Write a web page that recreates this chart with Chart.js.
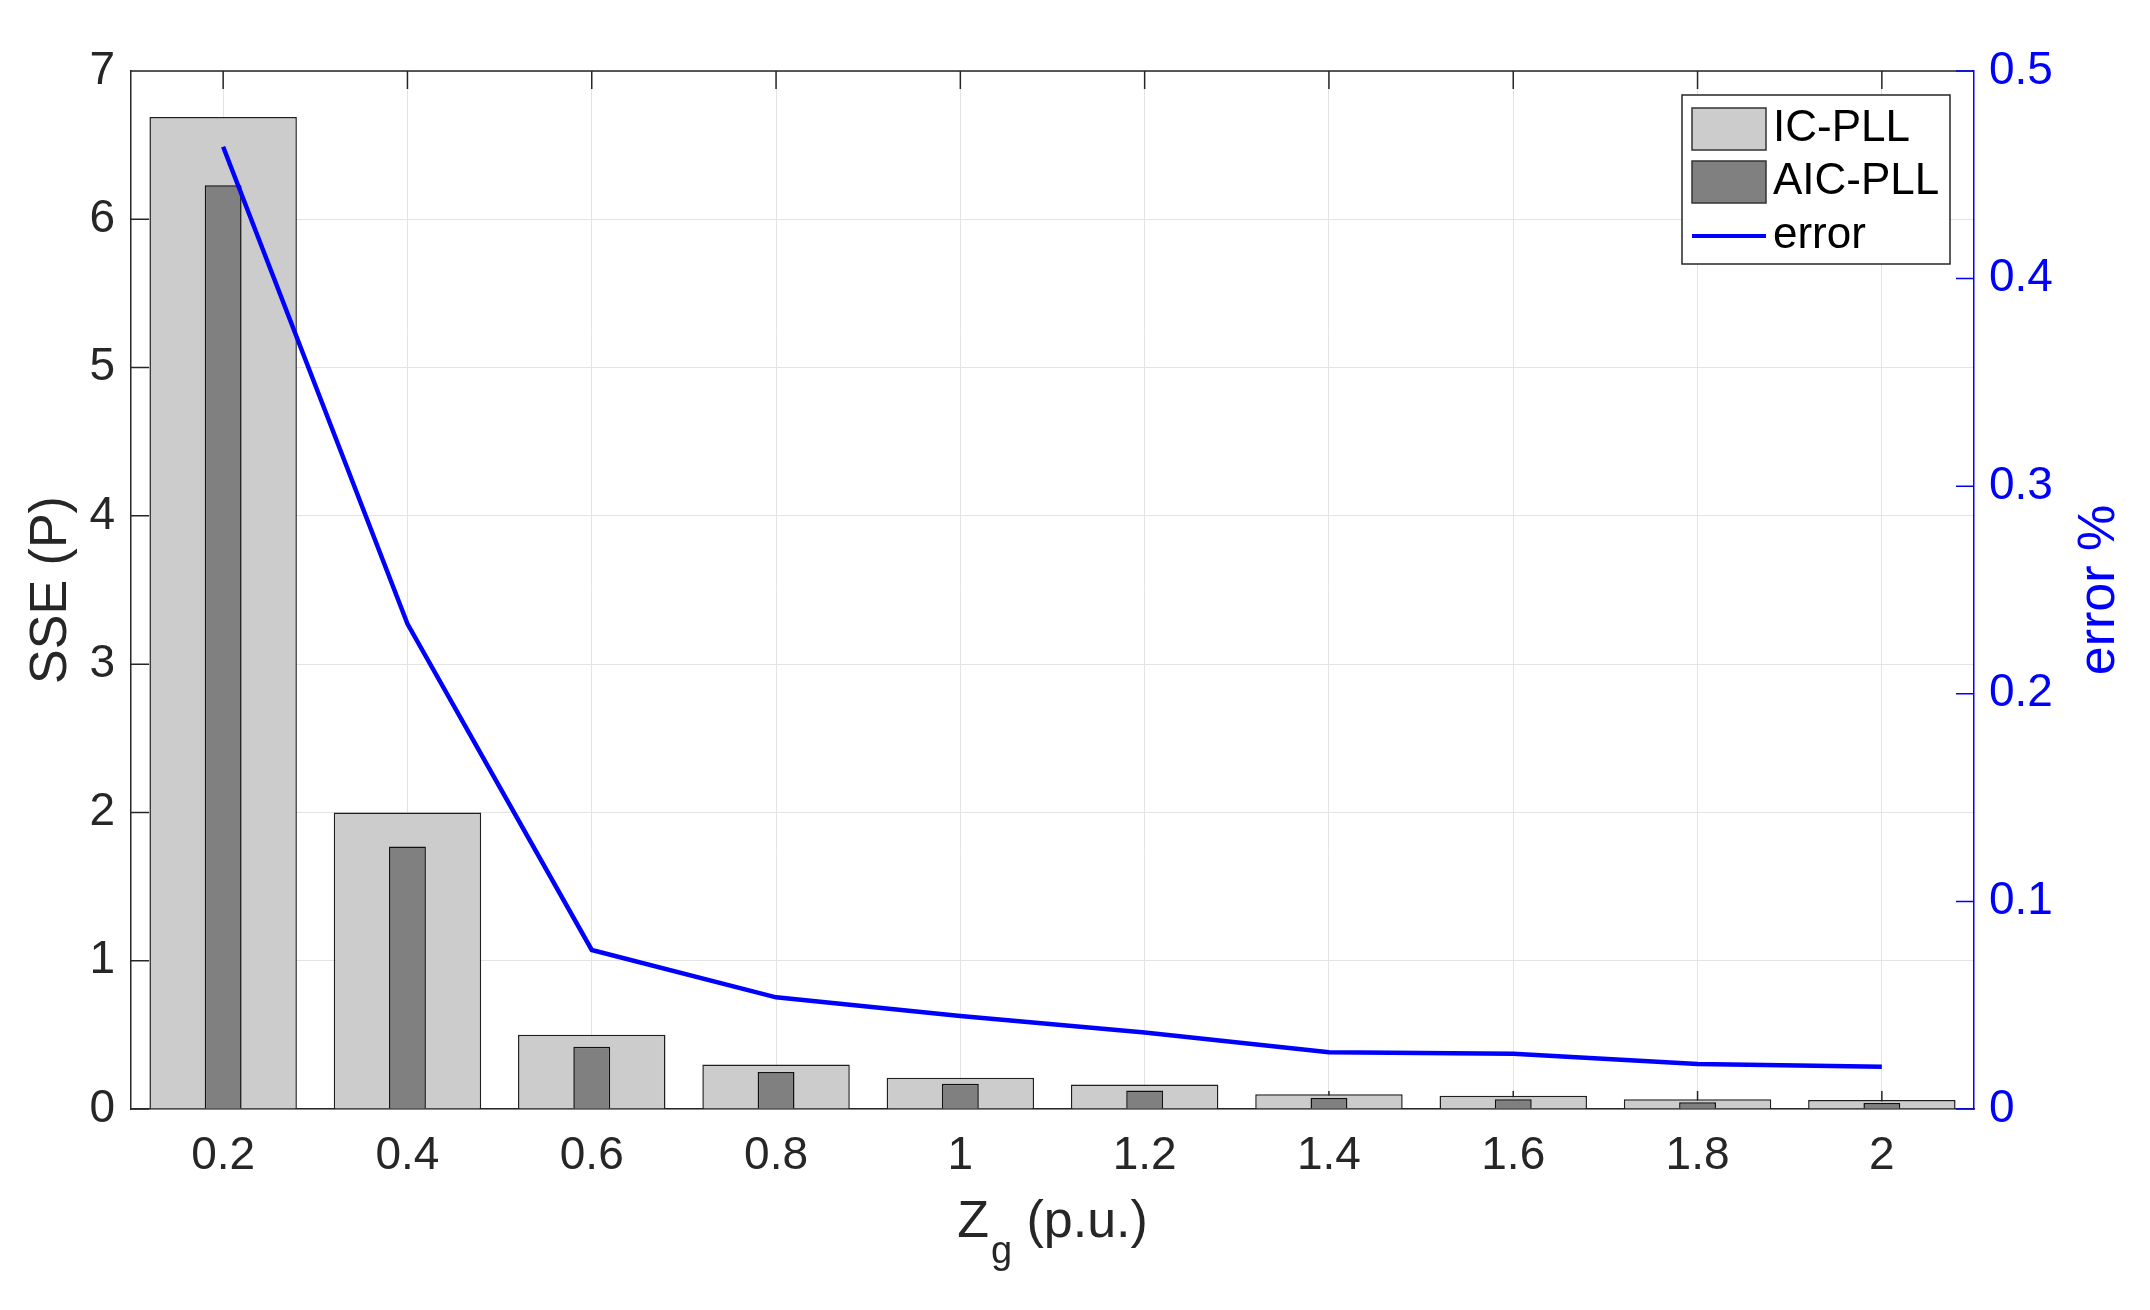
<!DOCTYPE html>
<html>
<head>
<meta charset="utf-8">
<script src="https://cdn.jsdelivr.net/npm/chart.js@4.4.1/dist/chart.umd.min.js"></script>
<style>
  html, body { margin: 0; padding: 0; background: #fff; }
  #wrap { width: 2150px; height: 1310px; }
</style>
</head>
<body>
<div id="wrap"><canvas id="grafico" width="2150" height="1310"></canvas></div>
<script>
// datos
const categorias = ['0.2', '0.4', '0.6', '0.8', '1', '1.2', '1.4', '1.6', '1.8', '2'];
const sseIC = [6.69, 2.0, 0.50, 0.30, 0.21, 0.165, 0.10, 0.09, 0.065, 0.06];
const sseAIC = [6.23, 1.77, 0.42, 0.25, 0.17, 0.125, 0.075, 0.065, 0.045, 0.04];
const errorPct = [0.4635, 0.2337, 0.0766, 0.0538, 0.0448, 0.0368, 0.0273, 0.0266, 0.0217, 0.0204];
const ticksIzq = ['0', '1', '2', '3', '4', '5', '6', '7'];
const ticksDer = ['0', '0.1', '0.2', '0.3', '0.4', '0.5'];

const FUENTE = 'Liberation Sans, Arial, Helvetica, sans-serif';
const NEGRO = '#262626';
const AZUL = '#0000ff';

// marcas hacia dentro y borde superior (estilo MATLAB), detras de las barras
const marcas = {
    id: 'marcas',
    beforeDatasetsDraw(chart) {
        const { ctx, chartArea: a, scales } = chart;
        const L = 18;
        ctx.save();
        ctx.lineWidth = 1.5;
        ctx.strokeStyle = NEGRO;
        ctx.beginPath();
        scales.y.ticks.forEach((t, i) => {
            const y = scales.y.getPixelForTick(i);
            ctx.moveTo(a.left, y);
            ctx.lineTo(a.left + L, y);
        });
        scales.x.ticks.forEach((t, i) => {
            const x = scales.x.getPixelForTick(i);
            ctx.moveTo(x, a.top);
            ctx.lineTo(x, a.top + L);
            ctx.moveTo(x, a.bottom);
            ctx.lineTo(x, a.bottom - L);
        });
        ctx.moveTo(a.left, a.top);
        ctx.lineTo(a.right, a.top);
        ctx.stroke();

        ctx.strokeStyle = AZUL;
        ctx.beginPath();
        scales.y1.ticks.forEach((t, i) => {
            const y = scales.y1.getPixelForTick(i);
            ctx.moveTo(a.right, y);
            ctx.lineTo(a.right - L, y);
        });
        ctx.stroke();
        ctx.restore();
    }
};

// leyenda con borde, titulo X con subindice y titulo derecho
const extras = {
    id: 'extras',
    afterDraw(chart) {
        const { ctx, chartArea: a } = chart;
        const ds = chart.data.datasets;
        ctx.save();

        // Leyenda
        const bx = 1682, by = 95, bw = 268, bh = 169;
        ctx.fillStyle = '#fff';
        ctx.fillRect(bx, by, bw, bh);
        ctx.lineWidth = 1.5;
        ctx.strokeStyle = NEGRO;
        ctx.strokeRect(bx, by, bw, bh);
        const filas = [129, 182, 236];
        ctx.font = '44px ' + FUENTE;
        ctx.textBaseline = 'middle';
        ctx.textAlign = 'left';
        [ds[1], ds[2]].forEach((d, i) => {
            ctx.fillStyle = d.backgroundColor;
            ctx.fillRect(1692, filas[i] - 21, 74, 42);
            ctx.strokeStyle = '#333';
            ctx.lineWidth = 1.5;
            ctx.strokeRect(1692, filas[i] - 21, 74, 42);
            ctx.fillStyle = '#000';
            ctx.fillText(d.label, 1773, filas[i]);
        });
        ctx.strokeStyle = ds[0].borderColor;
        ctx.lineWidth = 4;
        ctx.beginPath();
        ctx.moveTo(1692, filas[2]);
        ctx.lineTo(1766, filas[2]);
        ctx.stroke();
        ctx.fillStyle = '#000';
        ctx.fillText(ds[0].label, 1773, filas[2]);

        // Titulo eje X: Z con subindice g
        const cx = (a.left + a.right) / 2;
        ctx.textBaseline = 'alphabetic';
        ctx.fillStyle = NEGRO;
        const fGrande = '52px ' + FUENTE, fSub = '38px ' + FUENTE;
        ctx.font = fGrande;
        const wZ = ctx.measureText('Z').width;
        const wR = ctx.measureText(' (p.u.)').width;
        ctx.font = fSub;
        const wG = ctx.measureText('g').width;
        let x0 = cx - (wZ + wG + 2 + wR) / 2;
        ctx.font = fGrande;
        ctx.fillText('Z', x0, 1237);
        ctx.font = fSub;
        ctx.fillText('g', x0 + wZ + 2, 1263);
        ctx.font = fGrande;
        ctx.fillText(' (p.u.)', x0 + wZ + 2 + wG, 1237);

        // Titulo eje derecho
        ctx.translate(2114, (a.top + a.bottom) / 2);
        ctx.rotate(-Math.PI / 2);
        ctx.textAlign = 'center';
        ctx.fillStyle = AZUL;
        ctx.font = fGrande;
        ctx.fillText('error %', 0, 0);
        ctx.restore();
    }
};

const ctxGrafico = document.getElementById('grafico').getContext('2d');
new Chart(ctxGrafico, {
    type: 'bar',
    data: {
        labels: categorias,
        datasets: [
            {
                type: 'line',
                label: 'error',
                data: errorPct,
                yAxisID: 'y1',
                borderColor: AZUL,
                backgroundColor: AZUL,
                borderWidth: 4.5,
                pointRadius: 0,
                tension: 0,
                order: 0
            },
            {
                label: 'IC-PLL',
                data: sseIC,
                yAxisID: 'y',
                backgroundColor: '#cccccc',
                borderColor: '#1f1f1f',
                borderWidth: 1.5,
                grouped: false,
                barPercentage: 0.8,
                categoryPercentage: 1,
                order: 2
            },
            {
                label: 'AIC-PLL',
                data: sseAIC,
                yAxisID: 'y',
                backgroundColor: '#808080',
                borderColor: '#111',
                borderWidth: 1.5,
                grouped: false,
                barPercentage: 0.2,
                categoryPercentage: 1,
                order: 1
            }
        ]
    },
    options: {
        responsive: false,
        animation: false,
        devicePixelRatio: 1,
        layout: { padding: { top: 71, right: 0, bottom: 0, left: 0 } },
        plugins: {
            legend: { display: false },
            tooltip: { enabled: false }
        },
        scales: {
            x: {
                afterFit(s) { s.height = 201; },
                grid: { offset: false, color: '#e3e3e3', lineWidth: 1, drawTicks: false },
                border: { color: NEGRO, width: 1.5 },
                ticks: { color: NEGRO, padding: 20, font: { family: FUENTE, size: 46 }, maxRotation: 0 }
            },
            y: {
                position: 'left',
                min: 0,
                max: 7,
                afterFit(s) { s.width = 131; },
                grid: { color: '#e3e3e3', lineWidth: 1, drawTicks: false },
                border: { color: NEGRO, width: 1.5 },
                ticks: {
                    stepSize: 1,
                    color: NEGRO,
                    padding: 16,
                    font: { family: FUENTE, size: 46 },
                    callback: (v, i) => ticksIzq[i]
                },
                title: {
                    display: true,
                    text: 'SSE (P)',
                    color: NEGRO,
                    font: { family: FUENTE, size: 52 },
                    padding: { top: 20, bottom: 0 }
                }
            },
            y1: {
                position: 'right',
                min: 0,
                max: 0.5,
                afterFit(s) { s.width = 176; },
                grid: { drawOnChartArea: false, drawTicks: false },
                border: { color: AZUL, width: 1.5 },
                ticks: {
                    stepSize: 0.1,
                    color: AZUL,
                    padding: 15,
                    font: { family: FUENTE, size: 46 },
                    callback: (v, i) => ticksDer[i]
                }
            }
        }
    },
    plugins: [marcas, extras]
});
</script>
</body>
</html>
